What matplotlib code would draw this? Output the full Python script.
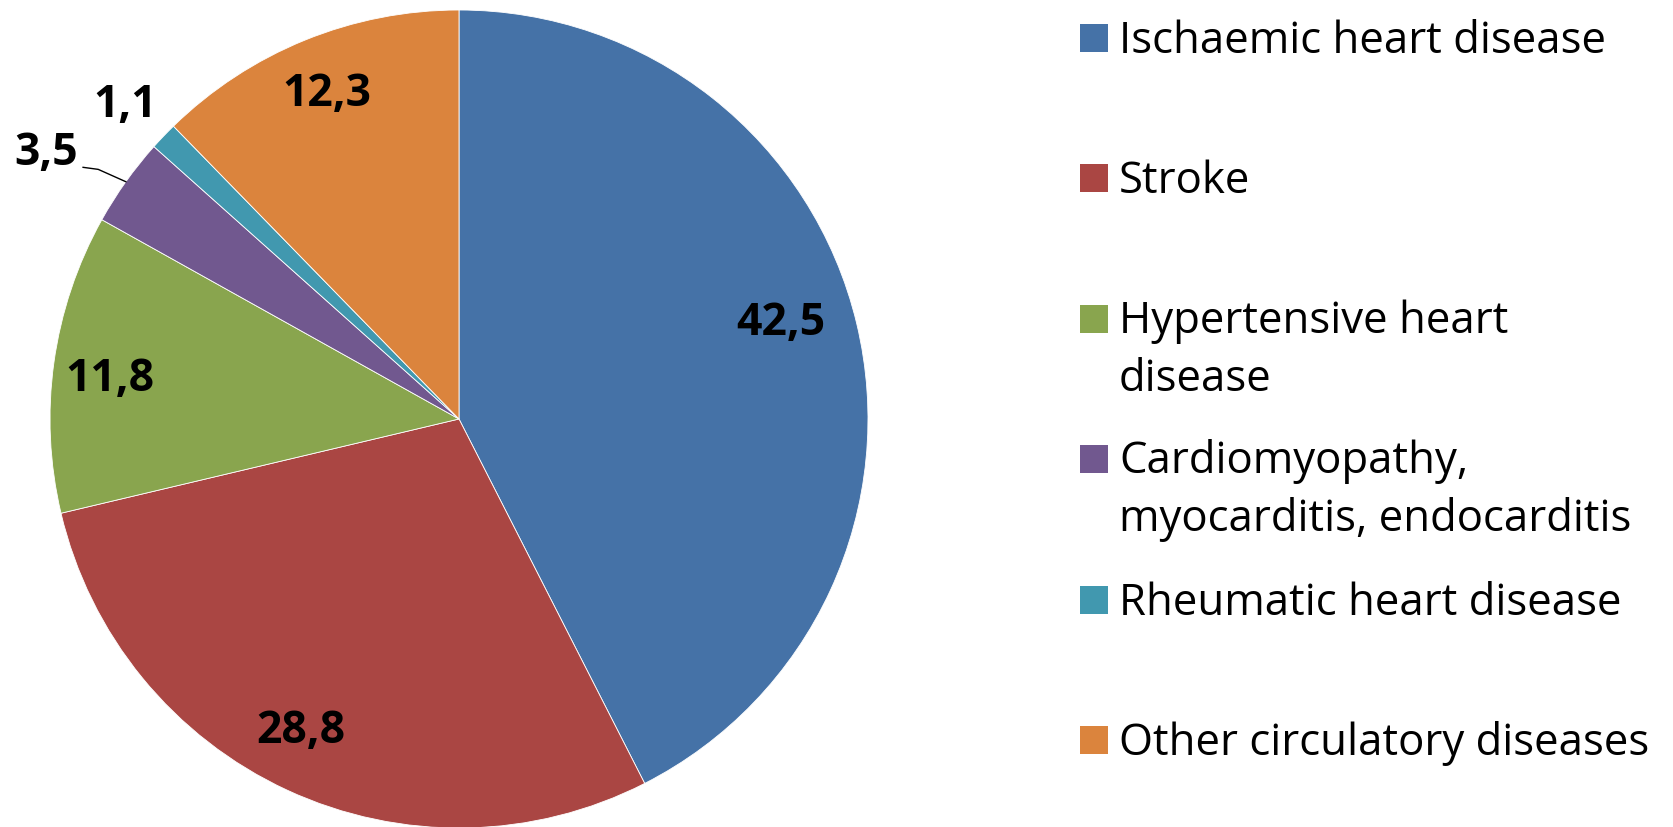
import matplotlib
matplotlib.use('Agg')
import matplotlib.pyplot as plt
from matplotlib.patches import Rectangle
import numpy as np

categories = ['Ischaemic heart disease', 'Stroke', 'Hypertensive heart\ndisease',
              'Cardiomyopathy,\nmyocarditis, endocarditis', 'Rheumatic heart disease',
              'Other circulatory diseases']
values = [42.5, 28.8, 11.8, 3.5, 1.1, 12.3]
value_labels = ['42,5', '28,8', '11,8', '3,5', '1,1', '12,3']
colors = ['#4572A7', '#AA4643', '#89A54E', '#71588F', '#4198AF', '#DB843D']

W, H = 1673, 827
cx, cy, R = 459, 419, 409  # centre du camembert et rayon, en pixels (depuis le haut)

fig = plt.figure(figsize=(W / 100, H / 100), dpi=100)
ax = fig.add_axes([0, 0, 1, 1])
wedges, _ = ax.pie(values, colors=colors, startangle=90, counterclock=False,
                   wedgeprops=dict(edgecolor='white', linewidth=0.6))
ax.set_aspect('auto')
ax.set_xlim(-cx / R, (W - cx) / R)
ax.set_ylim(-(H - cy) / R, cy / R)
ax.axis('off')

# étiquettes de valeurs
label_r = [0.82, 0.855, 0.86, 1.2, 1.12, 0.857]
label_shift = [3, -2, 1.5, 2.7, 0.5, 0]
leader = [False, False, False, True, False, False]
for w, txt, r, sh, ld in zip(wedges, value_labels, label_r, label_shift, leader):
    mid = np.deg2rad((w.theta1 + w.theta2) / 2)
    ang = mid + np.deg2rad(sh)
    lx, ly = r * np.cos(ang), r * np.sin(ang)
    ax.text(lx, ly, txt, ha='center', va='center', fontsize=32,
            fontweight='bold', family='Open Sans', color='black')
    if ld:
        ex, ey = np.cos(mid), np.sin(mid)
        ax.plot([lx + 0.09, lx + 0.127, ex], [ly - 0.034, ly - 0.039, ey],
                color='black', lw=1)

# légende
for i, (lab, col) in enumerate(zip(categories, colors)):
    y = 38 + i * 140.4
    nlines = lab.count('\n')
    fig.patches.append(Rectangle((1080 / W, 1 - (y + 14) / H), 28 / W, 28 / H,
                                 transform=fig.transFigure, facecolor=col,
                                 edgecolor='none'))
    base = y + 15 + nlines * 57
    fig.text(1119 / W, 1 - base / H, lab, va='baseline', ha='left',
             fontsize=31.5, family='Open Sans', linespacing=1.39)

fig.savefig('out.png', dpi=100)
